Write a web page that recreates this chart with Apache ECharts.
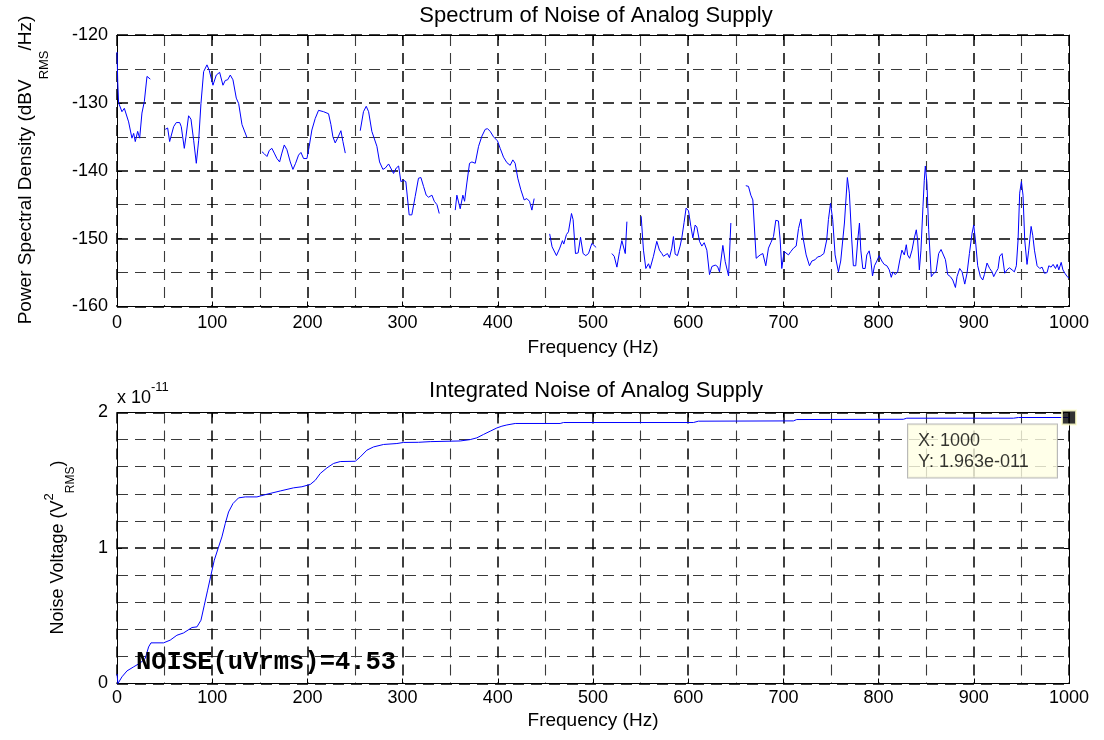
<!DOCTYPE html>
<html>
<head>
<meta charset="utf-8">
<title>Analog Supply Noise</title>
<script src="https://cdn.jsdelivr.net/npm/echarts@6/dist/echarts.min.js"></script>
<style>
  html, body { margin: 0; padding: 0; background: #fff; }
  #chart { width: 1104px; height: 740px; }
</style>
</head>
<body>
<div id="chart"></div>
<script>
// ---- Spectrum: power spectral density (dBV_RMS/Hz) vs frequency (Hz); null = gap in trace
const psdFreq = [
  0, 0.8, 1.7, 5.2, 7.7, 12.2, 15.7, 17.5, 19.2, 21.7, 23.8, 26.2, 28.7, 31.5, 35,
  42,
  50.7, 53.2, 55.3, 57, 59.5, 62.3, 65.8, 67.5, 70.7, 72.4, 75.2, 77.7, 80.5, 83.3, 85.8, 88.2,
  91, 94.5, 96.9, 100.8, 104.3, 107.8, 111.3, 113.7, 116.2, 119, 121.8, 125.3, 127.8, 131.3, 136.5,
  144,
  152.3, 154.7, 157.5, 160, 162.7, 165.2, 168, 170.8, 173.2, 175.7, 178.5, 182, 184.8, 187.6, 190.7,
  193.2, 196, 199.5, 201.9, 204.7, 208.2, 211.7, 217, 222.2, 224.7, 226.8, 229.2, 231.7, 235.2, 237.3, 239.8,
  248,
  255.5, 258.9, 261.8, 264.3, 267.7, 269.5, 273, 275.8, 279.3, 281.8, 285.3, 287, 290.5, 293.3, 295.8,
  298.2, 301, 303.4, 306.9, 309.7, 313.2, 316.7, 319.2, 322, 324.8, 327.3, 330.8, 333.3, 336.1, 338.5,
  347,
  355.3, 357, 358.8, 360.5, 363.3, 365.1, 367.5, 370.3, 372.8, 376.3, 379.8, 383.3, 386.8, 389.2, 392,
  395.5, 399.7, 402.5, 406, 409.5, 413, 415.8, 418.2, 421, 424.2, 427.7, 430.5, 433.3, 435.8, 438.2,
  446,
  454.5, 456.5, 457, 461.6, 465.1, 467.9, 469.3, 472.1, 474.2, 477.4, 479.1, 481.6, 484.4, 486.9, 489.6,
  492.4, 495.3, 498.8, 503.3,
  511,
  519.8, 522.3, 525.1, 527.9, 530.3, 532.1, 533.9, 535.6,
  543,
  550.6, 553, 555.5, 558.3, 560, 563.5, 567, 569.8, 572.3, 574, 575.8, 578.2, 580.3, 582.8, 584.5,
  586.3, 588.7, 591.5, 593.3, 595.7, 597.8, 600.3, 602.8, 604.9, 607.3, 609.1, 611.9, 614.3, 616.8, 619.6,
  622.4, 624.9, 628.4, 630.8, 632.9, 636.4, 638.9, 642.4, 644.8,
  652,
  660.5, 663.3, 665.8, 667.9, 671.4, 675.6, 678.4, 681.5, 684.3, 686.8, 689.6, 692, 694.8, 696.6, 698.3,
  700.8, 702.9, 705.3, 707.8, 710.6, 713.4, 715.9, 718.4, 720.4, 723.9, 727.4, 729.9, 733.4, 735.9, 738.7,
  742.5, 745.5, 747.3, 749.5, 751.8, 754.3, 757.8, 760.2, 762, 764.1, 767.2, 769.3, 771.8, 773.5, 776,
  778.1, 779.9, 781.3, 783.4, 785.9, 787.6, 790.1, 791.8, 793.6, 795.7, 798.2, 800.6, 803.4, 805.9, 808.7,
  811.2, 813.3, 815.1, 817.5, 820, 822.1, 824.5, 827, 829.1, 830.5, 832.6, 835.1, 837.5, 839.6, 841,
  842.8, 844.5, 846.6, 848, 849.1, 850.8, 852.6, 855.4, 857.9, 860.3, 863.1, 865.6, 867.7, 870.2, 872.6,
  875.4, 877.9, 880.7, 882.4, 885.2, 887.7, 890.5, 892.9, 895.4, 898.2, 899.9, 901.7, 904.1, 906.9, 909.4,
  911.1, 913.9, 916.7, 919.2, 920.9, 923.4, 925.5, 927.2, 929.7, 932.5, 934.9, 937.4, 940.2, 942.6, 944.7,
  946.5, 948.2, 950, 951.7, 953.5, 955.9, 957.7, 960.2, 961.9, 963.7, 966.5, 969.3, 971.7, 974.2, 977,
  978.8, 981.2, 983.3, 985.8, 987.6, 989.3, 991.8, 993.6, 995.7, 998.1, 1000
];
const psdLevel = [
  -122.5, -127, -130, -131.3, -130.8, -132.8, -135.2, -134.5, -135.7, -134.2, -135.2, -131.5, -129.8, -126.1, -126.5,
  null,
  -133.9, -133.7, -135.7, -135.7, -133.5, -132.9, -132.9, -133.5, -136.7, -135, -131.9, -132.4, -135.5, -138.9, -135.5, -130.1,
  -125.4, -124.4, -125.2, -127.4, -125.9, -125.5, -127.4, -126.7, -126.6, -125.9, -126.6, -129.3, -130.1, -133.2, -135.1,
  null,
  -137.2, -137.5, -137.9, -137, -136.7, -137.4, -138.2, -138.7, -137.4, -136.2, -136.9, -138.7, -139.8, -138.9, -137.7,
  -137.3, -138.2, -138.2, -136.4, -134, -132.3, -131.1, -131.3, -131.6, -133.2, -135, -135.9, -135.2, -134.1, -135.7, -137.4,
  null,
  -134.1, -131.3, -130.5, -131.3, -134.2, -134.4, -136.4, -138.7, -139.8, -139.6, -139, -139.2, -140.4, -139.6, -139.3,
  -141.6, -141.4, -141.6, -146.5, -146.5, -143.8, -141.1, -141, -142.3, -143.6, -143.9, -143.6, -144.5, -145, -146.3,
  null,
  -145.8, -143.6, -143.6, -145.6, -143.6, -144.5, -141.8, -138.9, -138.7, -138.9, -136.4, -134.9, -133.9, -133.8, -134.2,
  -135, -135.6, -136.7, -138, -138.8, -139.2, -138.4, -138.9, -141.1, -142.8, -144.3, -144.1, -144.5, -145.8, -144.1,
  null,
  -149.3, -149.2, -151.2, -152.5, -151.4, -150.3, -150.8, -149.4, -149, -146.3, -147.2, -152.2, -152.1, -149.8, -152.2,
  -152.5, -152.2, -150.7, -151.3,
  null,
  -152.2, -152.6, -154.2, -151.9, -150.3, -150.4, -152.2, -147.5,
  null,
  -146.7, -151.7, -154.4, -153.7, -154.4, -152.6, -150.4, -151.7, -152.2, -152.6, -152.8, -152.2, -152.8, -151.4, -149.7,
  -152.3, -152.5, -151.1, -149.9, -147.6, -145.5, -145.9, -148.2, -149.9, -148, -148.3, -150.4, -151.1, -150.6, -151.7,
  -155.3, -154.1, -153.9, -154.1, -154.9, -151, -153.4, -155.5, -147.7,
  null,
  -142.2, -142.3, -143.6, -144.3, -152.9, -152.4, -152.2, -154, -151.4, -150.6, -149.7, -147.3, -147.4, -150.2, -154.4,
  -151.9, -151.7, -152.4, -151.9, -151.4, -151.1, -148.5, -147.1, -149.7, -152.4, -154, -153.3, -153.1, -152.7, -152.6,
  -152.2, -150.2, -147.2, -144.8, -147.2, -152.4, -154.9, -153.3, -153.1, -147.7, -141, -143.3, -150.2, -154, -154,
  -150.2, -147.7, -151.7, -154.4, -154.4, -152.4, -151.8, -153.1, -155.5, -154, -153.3, -152.5, -153.3, -153.8, -154,
  -154.6, -155.7, -154.9, -155.3, -154.9, -153.3, -151.7, -152.4, -150.9, -152.4, -152.9, -151.7, -149.9, -148.7, -150.2,
  -154.6, -151.7, -145.3, -141.4, -139.3, -141.9, -148.7, -155.6, -155.1, -154.9, -152.2, -151.6, -151.7, -153.1, -155.3,
  -155.6, -156.1, -157.2, -155.6, -154.4, -154.9, -156.7, -155.1, -152.2, -149.2, -148, -150.2, -154, -155.6, -156.1,
  -155.3, -153.6, -154.4, -154.9, -155.6, -154.9, -154.4, -152.6, -152.2, -155.1, -154.6, -154.3, -154.6, -154.9, -154,
  -150.2, -143.3, -141.6, -143.6, -150.2, -153.8, -151.7, -148.2, -149.5, -151.7, -154, -154.4, -154.2, -155.1, -155,
  -154, -154.2, -153.8, -154.4, -153.8, -154.6, -153.5, -154.6, -155.1, -155.6, -155.8
];

// ---- Integrated noise: cumulative noise power (V_RMS^2) vs frequency (Hz)
const intFreq = [
  0, 1, 5.2, 10.5, 17.5, 24.5, 29.7, 33.2, 35.7, 48.9, 55.9, 62.9, 69.9, 78.7, 84, 88.2, 91.7, 95.2,
  98.7, 102.2, 106.7, 110.2, 113.7, 117.2, 121.8, 127.7, 134.7, 147, 157.5, 171.5, 185.5, 194.2, 203,
  208.3, 213.5, 220.5, 227.5, 234.5, 250.3, 255.5, 262.5, 269.5, 280, 294, 301, 316.7, 329, 360.5, 371,
  378, 385, 392, 399, 404.3, 409.5, 418.3, 465.5, 469, 605.5, 610.7, 710.5, 714, 826, 829.6, 941.6,
  946.8, 1000
];
const intNoise = [
  0.07e-11, 0, 0.049e-11, 0.093e-11, 0.123e-11, 0.152e-11, 0.185e-11, 0.27e-11, 0.30e-11, 0.30e-11,
  0.32e-11, 0.356e-11, 0.373e-11, 0.413e-11, 0.418e-11, 0.467e-11, 0.578e-11, 0.689e-11, 0.80e-11,
  0.91e-11, 1.008e-11, 1.082e-11, 1.18e-11, 1.266e-11, 1.328e-11, 1.37e-11, 1.377e-11, 1.377e-11,
  1.397e-11, 1.421e-11, 1.444e-11, 1.452e-11, 1.469e-11, 1.50e-11, 1.55e-11, 1.591e-11, 1.624e-11,
  1.638e-11, 1.64e-11, 1.672e-11, 1.722e-11, 1.746e-11, 1.764e-11, 1.771e-11, 1.779e-11, 1.78e-11,
  1.785e-11, 1.79e-11, 1.80e-11, 1.813e-11, 1.838e-11, 1.862e-11, 1.886e-11, 1.899e-11, 1.908e-11,
  1.919e-11, 1.919e-11, 1.926e-11, 1.926e-11, 1.936e-11, 1.938e-11, 1.948e-11, 1.95e-11, 1.958e-11,
  1.958e-11, 1.963e-11, 1.963e-11
];

// ---- Axis ticks and annotation text
const freqTicks = { min: 0, max: 1000, step: 100 };
const psdTicks = { min: -160, max: -120, step: 10 };
const intTicks = { min: 0, max: 2e-11, step: 1e-11 };
const intScale = 1e-11;
const noiseNote = 'NOISE(uVrms)=4.53';
const cursorIndex = intFreq.length - 1;

const FONT = '"Liberation Sans", Arial, sans-serif';
const majorGrid = { show: true, lineStyle: { color: '#000', width: 1.5, type: [11, 7] } };
const minorGrid = { show: true, lineStyle: { color: '#3a3a3a', width: 1.1, type: [11, 7] } };
const frameLine = { show: true, onZero: false, lineStyle: { color: '#000', width: 1 } };
const innerTick = { show: true, inside: true, length: 5, lineStyle: { color: '#000', width: 1 } };

// MATLAB-style exponent: 1.963e-011
function matlabExp(v) {
  const s = v.toExponential(3);
  const m = s.match(/^(-?[\d.]+)e([+-])(\d+)$/);
  const digits = m[3].padStart(3, '0');
  return m[1] + 'e' + (m[2] === '-' ? '-' : '+') + digits;
}

function xAxes(grid, nameGap, labelMargin) {
  return [
    {
      gridIndex: grid, type: 'value', position: 'bottom',
      min: freqTicks.min, max: freqTicks.max, interval: freqTicks.step,
      axisLine: frameLine, axisTick: innerTick,
      axisLabel: { color: '#000', fontSize: 18, fontFamily: FONT, margin: labelMargin, formatter: v => String(v) },
      splitLine: majorGrid,
      minorTick: { show: false, splitNumber: 2 },
      minorSplitLine: minorGrid,
      name: 'Frequency (Hz)', nameLocation: 'middle', nameGap: nameGap,
      nameTextStyle: { color: '#000', fontSize: 19, fontFamily: FONT }
    },
    {
      gridIndex: grid, type: 'value', position: 'top',
      min: freqTicks.min, max: freqTicks.max, interval: freqTicks.step,
      axisLine: frameLine, axisTick: innerTick,
      axisLabel: { show: false }, splitLine: { show: false }
    }
  ];
}

function yAxes(grid, t, minorSplit, fmt) {
  return [
    {
      gridIndex: grid, type: 'value', position: 'left',
      min: t.min, max: t.max, interval: t.step,
      axisLine: frameLine, axisTick: innerTick,
      axisLabel: { color: '#000', fontSize: 18, fontFamily: FONT, margin: 9, formatter: fmt },
      splitLine: majorGrid,
      minorTick: { show: false, splitNumber: minorSplit },
      minorSplitLine: minorGrid
    },
    {
      gridIndex: grid, type: 'value', position: 'right',
      min: t.min, max: t.max, interval: t.step,
      axisLine: frameLine, axisTick: innerTick,
      axisLabel: { show: false }, splitLine: { show: false }
    }
  ];
}

const chart = echarts.init(document.getElementById('chart'), null, { renderer: 'canvas' });

const option = {
  backgroundColor: '#fff',
  animation: false,
  title: [
    {
      text: 'Spectrum of Noise of Analog Supply', left: 591, top: 0, textAlign: 'center',
      textStyle: { color: '#000', fontSize: 22, fontWeight: 'normal', fontFamily: FONT }
    },
    {
      text: 'Integrated Noise of Analog Supply', left: 591, top: 375, textAlign: 'center',
      textStyle: { color: '#000', fontSize: 22, fontWeight: 'normal', fontFamily: FONT }
    }
  ],
  grid: [
    { left: 117, top: 35, width: 952, height: 271.5 },
    { left: 117, top: 412.5, width: 952, height: 271 }
  ],
  xAxis: [].concat(xAxes(0, 32, 8), xAxes(1, 28, 6)),
  yAxis: [].concat(
    yAxes(0, psdTicks, 2, v => String(v)),
    yAxes(1, intTicks, 5, v => String(Math.round(v / intScale)))
  ),
  graphic: [
    {
      type: 'text', x: 27, y: 170, rotation: Math.PI / 2,
      style: {
        text: '{n|Power Spectral Density (dBV}{s|RMS}{n|/Hz)}',
        align: 'center', verticalAlign: 'middle',
        rich: {
          n: { fontSize: 19, fontFamily: FONT, fill: '#000', lineHeight: 21, verticalAlign: 'top' },
          s: { fontSize: 13, fontFamily: FONT, fill: '#000', lineHeight: 13, verticalAlign: 'top', padding: [21, 0, 0, 0] }
        }
      }
    },
    {
      type: 'text', x: 53, y: 547.5, rotation: Math.PI / 2,
      style: {
        text: '{n|Noise Voltage (V}{p|2}{s|RMS}{n|)}',
        align: 'center', verticalAlign: 'middle',
        rich: {
          n: { fontSize: 18, fontFamily: FONT, fill: '#000', lineHeight: 20, verticalAlign: 'top', padding: [6, 0, 0, 0] },
          p: { fontSize: 13, fontFamily: FONT, fill: '#000', lineHeight: 12, verticalAlign: 'top' },
          s: { fontSize: 12, fontFamily: FONT, fill: '#000', lineHeight: 12, verticalAlign: 'top', padding: [22, 0, 0, 0] }
        }
      }
    },
    {
      type: 'text', left: 117, top: 381,
      style: {
        text: '{n|x 10}{p|-11}',
        rich: {
          n: { fontSize: 18, fontFamily: FONT, fill: '#000', lineHeight: 18, verticalAlign: 'top', padding: [8, 0, 0, 0] },
          p: { fontSize: 13, fontFamily: FONT, fill: '#000', lineHeight: 13, verticalAlign: 'top' }
        }
      }
    },
    {
      type: 'text', x: 136, y: 663, z: 100,
      style: {
        text: noiseNote, fill: '#000',
        font: 'bold 25.5px "Liberation Mono", "Courier New", monospace',
        verticalAlign: 'middle'
      }
    }
  ],
  series: [
    {
      type: 'line', xAxisIndex: 0, yAxisIndex: 0,
      data: psdFreq.map((f, i) => [f, psdLevel[i]]),
      showSymbol: false, connectNulls: false,
      lineStyle: { color: '#0000ff', width: 1 }
    },
    {
      type: 'line', xAxisIndex: 2, yAxisIndex: 2,
      data: intFreq.map((f, i) => [f, intNoise[i]]),
      showSymbol: false,
      lineStyle: { color: '#0000ff', width: 1 }
    },
    {
      // data cursor at the last integrated point
      type: 'scatter', xAxisIndex: 2, yAxisIndex: 2, clip: false, z: 20,
      data: [[intFreq[cursorIndex], intNoise[cursorIndex]]],
      symbol: 'rect', symbolSize: 14,
      itemStyle: { color: '#000', borderColor: '#ffffcc', borderWidth: 2 },
      label: {
        show: true, position: [-153, 15], align: 'left', verticalAlign: 'top',
        formatter: p => 'X: ' + p.value[0] + '\nY: ' + matlabExp(p.value[1]),
        color: '#000', fontSize: 18, fontFamily: FONT, lineHeight: 21,
        backgroundColor: '#ffffe3', borderColor: '#a8a8a8', borderWidth: 1,
        padding: [6, 8, 5, 10], width: 131
      }
    }
  ]
};

chart.setOption(option);
</script>
</body>
</html>
